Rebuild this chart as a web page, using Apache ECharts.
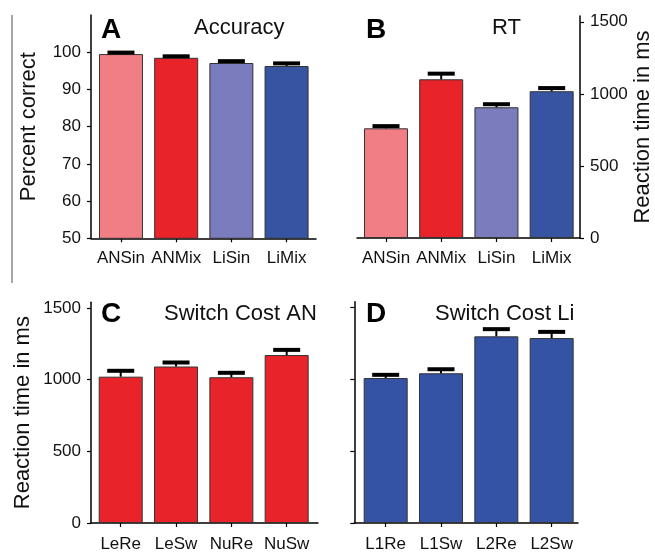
<!DOCTYPE html>
<html>
<head>
<meta charset="utf-8">
<script src="https://cdn.jsdelivr.net/npm/echarts@6/dist/echarts.min.js"></script>
<style>html,body{margin:0;padding:0;background:#fff;}#chart{width:655px;height:553px;}</style>
</head>
<body>
<div id="chart"></div>
<script>
// ---- data ----
const accCats = ['ANSin', 'ANMix', 'LiSin', 'LiMix'];
const accValues = [99.5, 98.5, 97.1, 96.3];
const accErrTop = [99.9, 98.9, 97.6, 97.0];
const accTicks = [50, 60, 70, 80, 90, 100];

const rtCats = ['ANSin', 'ANMix', 'LiSin', 'LiMix'];
const rtValues = [761, 1101, 907, 1018];
const rtErrTop = [776, 1140, 928, 1040];
const rtTicks = [0, 500, 1000, 1500];

const anCats = ['LeRe', 'LeSw', 'NuRe', 'NuSw'];
const anValues = [1021, 1092, 1017, 1172];
const anErrTop = [1062, 1120, 1048, 1208];

const liCats = ['L1Re', 'L1Sw', 'L2Re', 'L2Sw'];
const liValues = [1009, 1042, 1299, 1287];
const liErrTop = [1031, 1070, 1349, 1330];

// ---- styles ----
const condColors = ['#F27E85', '#E8242A', '#7A7CBD', '#3754A3'];
const anColor = '#E8242A';
const liColor = '#3553A5';
const FONT = 'Liberation Sans';
const TXT = '#111';

const chart = echarts.init(document.getElementById('chart'), null, {renderer: 'canvas'});

function errRender(params, api) {
  const x = api.value(0), v = api.value(1), e = api.value(2);
  const p0 = api.coord([x, v]);
  const p1 = api.coord([x, e]);
  return {
    type: 'group',
    children: [
      {type: 'line', shape: {x1: p0[0], y1: p0[1], x2: p1[0], y2: p1[1]}, style: {stroke: '#000', lineWidth: 2}},
      {type: 'line', shape: {x1: p1[0] - 13.5, y1: p1[1], x2: p1[0] + 13.5, y2: p1[1]}, style: {stroke: '#000', lineWidth: 4}}
    ]
  };
}

function xAxisFor(idx, cats, min, max, labelMargin) {
  return {
    gridIndex: idx, type: 'value', min: min, max: max,
    splitLine: {show: false},
    axisLine: {show: true, onZero: false, lineStyle: {color: '#000', width: 1.5}},
    axisTick: {show: true, length: 4, customValues: [0, 1, 2, 3], lineStyle: {color: '#000', width: 1.2}},
    axisLabel: {show: true, customValues: [0, 1, 2, 3], formatter: v => cats[Math.round(v)] || '',
      fontFamily: FONT, fontSize: 17, color: TXT, margin: labelMargin}
  };
}

function yAxisFor(idx, min, max, ticks, opts) {
  const base = {
    gridIndex: idx, type: 'value', min: min, max: max,
    splitLine: {show: false},
    axisLine: {show: true, onZero: false, lineStyle: {color: '#000', width: 1.5}},
    axisTick: {show: true, length: 4, customValues: ticks, lineStyle: {color: '#000', width: 1.2}},
    axisLabel: {show: true, customValues: ticks, formatter: v => String(v), fontFamily: FONT, fontSize: 17, color: TXT, margin: 10},
    nameTextStyle: {fontFamily: FONT, fontSize: 22, color: TXT}
  };
  return Object.assign(base, opts);
}

function barSeries(idx, vals, colors) {
  return {
    type: 'bar', xAxisIndex: idx, yAxisIndex: idx, barWidth: 44,
    data: vals.map((v, i) => ({value: [i, v], itemStyle: {color: Array.isArray(colors) ? colors[i] : colors}})),
    itemStyle: {borderColor: '#333', borderWidth: 1},
    emphasis: {disabled: true}, silent: true
  };
}
function errSeries(idx, vals, tops) {
  return {
    type: 'custom', xAxisIndex: idx, yAxisIndex: idx, renderItem: errRender, clip: false, silent: true,
    data: vals.map((v, i) => [i, v, tops[i]]), z: 5
  };
}

const titleStyle = {fontFamily: FONT, fontSize: 22, fontWeight: 'normal', color: TXT};
const letterStyle = {fontFamily: FONT, fontSize: 28, fontWeight: 'bold', color: '#000'};

const option = {
  animation: false,
  backgroundColor: '#fff',
  title: [
    {text: 'A', left: 96, top: 11, textStyle: letterStyle},
    {text: 'Accuracy', left: 189, top: 12, textStyle: titleStyle},
    {text: 'B', left: 361, top: 11, textStyle: letterStyle},
    {text: 'RT', left: 487, top: 12, textStyle: titleStyle},
    {text: 'C', left: 96, top: 295, textStyle: letterStyle},
    {text: 'Switch Cost AN', left: 159, top: 298, textStyle: titleStyle},
    {text: 'D', left: 361, top: 295, textStyle: letterStyle},
    {text: 'Switch Cost Li', left: 430, top: 298, textStyle: titleStyle}
  ],
  grid: [
    {left: 91, top: 15, width: 225, height: 223.3},
    {left: 357, top: 16, width: 223, height: 222},
    {left: 91, top: 302.3, width: 227, height: 222},
    {left: 354.3, top: 301.7, width: 223.7, height: 223.3}
  ],
  xAxis: [
    xAxisFor(0, accCats, -0.543, 3.533, 12),
    xAxisFor(1, rtCats, -0.525, 3.513, 12),
    xAxisFor(2, anCats, -0.537, 3.566, 13),
    xAxisFor(3, liCats, -0.567, 3.476, 13)
  ],
  yAxis: [
    yAxisFor(0, 50, 110, accTicks, {name: 'Percent correct', nameLocation: 'middle', nameGap: 51}),
    yAxisFor(1, 0, 1540, rtTicks, {position: 'right', name: 'Reaction time in ms', nameLocation: 'middle', nameGap: 47, nameRotate: 90}),
    yAxisFor(2, 0, 1540, rtTicks, {name: 'Reaction time in ms', nameLocation: 'middle', nameGap: 57}),
    yAxisFor(3, 0, 1540, rtTicks, {})
  ],
  series: [
    barSeries(0, accValues, condColors), errSeries(0, accValues, accErrTop),
    barSeries(1, rtValues, condColors), errSeries(1, rtValues, rtErrTop),
    barSeries(2, anValues, anColor), errSeries(2, anValues, anErrTop),
    barSeries(3, liValues, liColor), errSeries(3, liValues, liErrTop)
  ],
  graphic: [
    {type: 'line', shape: {x1: 12, y1: 15, x2: 12, y2: 283}, style: {stroke: '#8a8a8a', lineWidth: 1.5}, silent: true}
  ]
};
option.yAxis[3].axisLabel = Object.assign({}, option.yAxis[3].axisLabel, {show: false});
chart.setOption(option);
</script>
</body>
</html>
